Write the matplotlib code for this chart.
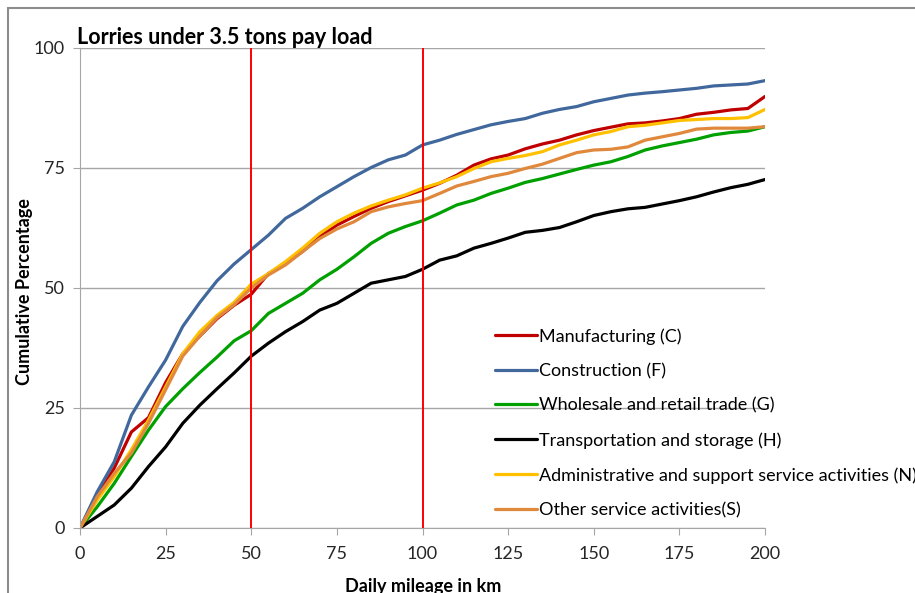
import numpy as np
import matplotlib
matplotlib.use('Agg')
import matplotlib.pyplot as plt
from matplotlib.patches import Rectangle

plt.rcParams['font.family'] = ['Lato', 'DejaVu Sans']

km = list(range(0, 205, 5))

manufacturing = [0, 6.5, 12.5, 20.0, 23.0, 30.3, 36.3, 40.0, 43.6, 46.4, 48.7,
                 53.0, 55.1, 57.6, 60.7, 63.1, 64.9, 66.6, 68.0, 69.2, 70.4,
                 71.8, 73.5, 75.6, 76.9, 77.7, 79.0, 80.0, 80.8, 81.9, 82.8,
                 83.5, 84.2, 84.4, 84.8, 85.3, 86.2, 86.6, 87.1, 87.4, 89.9]
construction = [0, 7.5, 13.8, 23.5, 29.4, 35.0, 42.0, 47.0, 51.5, 55.0, 58.0,
                61.0, 64.5, 66.6, 69.0, 71.1, 73.2, 75.1, 76.7, 77.7, 79.8,
                80.8, 82.0, 83.0, 84.0, 84.7, 85.3, 86.4, 87.2, 87.8, 88.8,
                89.5, 90.2, 90.6, 90.9, 91.25, 91.6, 92.1, 92.3, 92.5, 93.2]
wholesale = [0, 4.4, 9.3, 14.9, 20.4, 25.3, 29.0, 32.4, 35.6, 39.0, 41.1,
             44.7, 46.8, 48.9, 51.7, 53.9, 56.5, 59.3, 61.4, 62.8, 64.0,
             65.6, 67.3, 68.3, 69.7, 70.8, 72.0, 72.8, 73.75, 74.7, 75.6,
             76.3, 77.4, 78.75, 79.6, 80.3, 81.0, 81.9, 82.4, 82.7, 83.6]
transport = [0, 2.4, 4.8, 8.3, 12.8, 16.9, 21.8, 25.6, 29.0, 32.3, 35.8,
             38.5, 40.9, 43.0, 45.4, 46.8, 48.9, 51.0, 51.7, 52.4, 53.9,
             55.8, 56.7, 58.3, 59.3, 60.4, 61.6, 62.0, 62.6, 63.8, 65.1,
             65.9, 66.5, 66.8, 67.5, 68.2, 69.0, 70.0, 70.9, 71.6, 72.6]
admin = [0, 5.8, 10.7, 16.3, 22.5, 29.4, 36.3, 40.9, 44.3, 47.0, 50.8,
         53.0, 55.5, 58.3, 61.4, 63.8, 65.6, 67.1, 68.3, 69.4, 70.8,
         71.9, 73.2, 74.9, 76.3, 77.0, 77.6, 78.4, 79.8, 80.8, 81.9,
         82.6, 83.6, 83.9, 84.4, 84.9, 85.1, 85.3, 85.3, 85.5, 87.2]
other = [0, 6.5, 11.4, 15.6, 21.8, 28.8, 35.8, 40.0, 43.8, 46.5, 50.0,
         52.7, 54.8, 57.6, 60.3, 62.3, 63.8, 65.9, 66.9, 67.6, 68.2,
         69.7, 71.25, 72.2, 73.2, 73.9, 74.9, 75.8, 77.0, 78.2, 78.75,
         78.9, 79.4, 80.8, 81.5, 82.2, 83.1, 83.3, 83.3, 83.3, 83.6]

labels = ['Manufacturing (C)', 'Construction (F)', 'Wholesale and retail trade (G)',
          'Transportation and storage (H)',
          'Administrative and support service activities (N)',
          'Other service activities(S)']
colors = ['#c00000', '#41689c', '#00a000', '#000000', '#ffc000', '#e0883c']
series = [manufacturing, construction, wholesale, transport, admin, other]
markers_km = [50, 100]

fig = plt.figure(figsize=(9.15, 5.93), dpi=100)
ax = fig.add_axes([80 / 915, 65 / 593, 685 / 915, 480 / 593])

# outer chart frame (partly cut off like the source)
fig.patches.append(Rectangle((8 / 915, -0.1), 1.2, (585 / 593) + 0.1, fill=False,
                             edgecolor='#8c8c8c', lw=1.5, transform=fig.transFigure))

for y, lab, c in zip(series, labels, colors):
    ax.plot(km, y, color=c, lw=2.3, label=lab, solid_capstyle='round')

for m in markers_km:
    ax.axvline(m, color='#ff0000', lw=1.4, zorder=5)

ax.set_xlim(0, 200)
ax.set_ylim(0, 100)
ax.set_xticks(range(0, 201, 25))
ax.set_yticks(range(0, 101, 25))
ax.grid(axis='y', color='#a6a6a6', lw=1)
ax.set_axisbelow(True)
for s in ['top', 'right']:
    ax.spines[s].set_visible(False)
for s in ['left', 'bottom']:
    ax.spines[s].set_color('#a6a6a6')
ax.tick_params(axis='both', colors='#a6a6a6', labelcolor='#262626', labelsize=13, length=5)
ax.tick_params(axis='x', pad=8)
ax.tick_params(axis='y', pad=6)

fig.text(77 / 915, 1 - 44 / 593, 'Lorries under 3.5 tons pay load', fontsize=15.5,
         fontweight='bold', ha='left', va='baseline')
fig.text(25 / 915, 1 - 292 / 593, 'Cumulative Percentage', rotation=90, fontsize=13,
         fontweight='bold', ha='center', va='center')
fig.text(423 / 915, 1 - 578 / 593, 'Daily mileage in km', fontsize=13,
         fontweight='bold', ha='center', va='top')

ax.legend(loc='upper left', bbox_to_anchor=(495 / 915, 1 - 328 / 593),
          bbox_transform=fig.transFigure, frameon=False, fontsize=13,
          handlelength=2.3, handletextpad=0.15, labelspacing=1.02,
          borderaxespad=0, borderpad=0)

fig.savefig('out.png', dpi=100)
